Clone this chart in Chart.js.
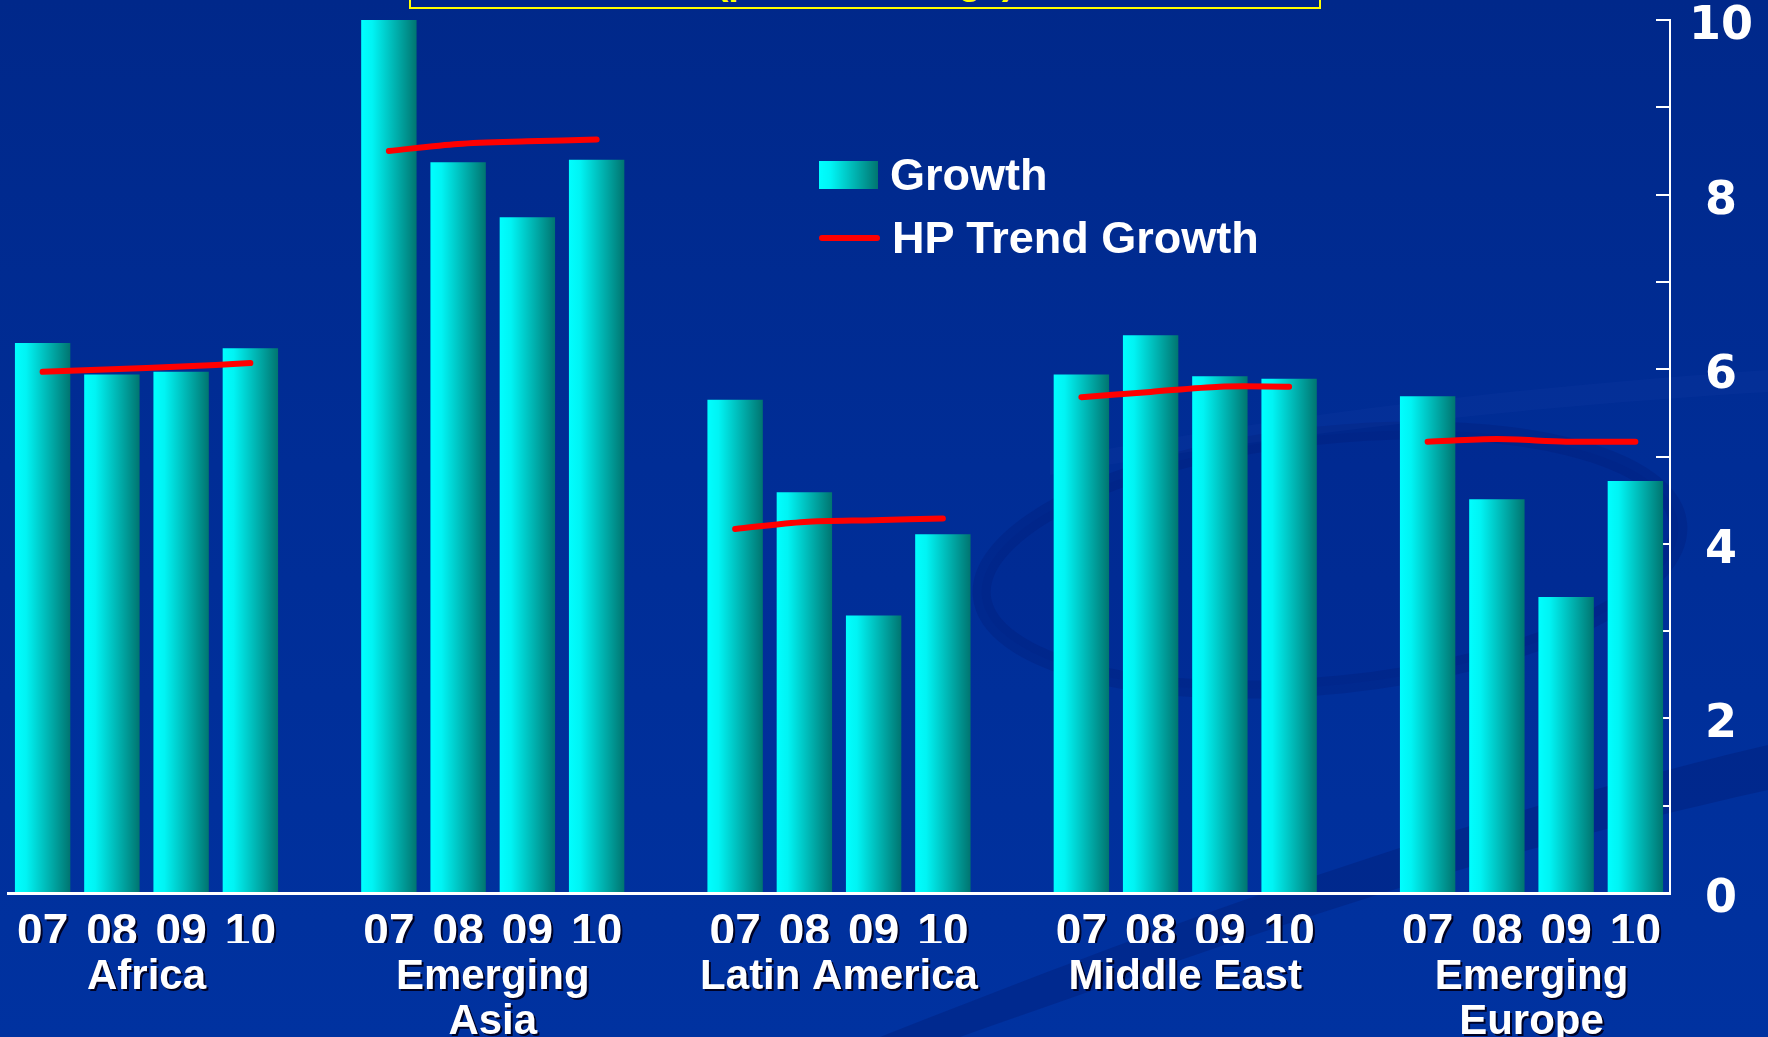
<!DOCTYPE html>
<html>
<head>
<meta charset="utf-8">
<title>Growth vs HP Trend Growth</title>
<script src="https://cdn.jsdelivr.net/npm/chart.js@4.4.1/dist/chart.umd.min.js"></script>
<style>
  html, body { margin: 0; padding: 0; overflow: hidden; }
  body {
    width: 1768px; height: 1037px; position: relative;
    background: linear-gradient(180deg, #00288a 0%, #002d96 45%, #0032a0 100%);
    font-family: "Liberation Sans", Arial, sans-serif;
  }
  #swirl { position: absolute; left: 0; top: 0; }
  #wrap { position: absolute; left: 0; top: 0; width: 1768px; height: 1037px; }
  .titlebox {
    position: absolute; left: 409px; top: -50px; width: 912px; height: 59px;
    box-sizing: border-box; border: 2px solid #ffff00; overflow: hidden;
  }
  .titlebox span {
    position: absolute; left: 0; right: 0; top: 11px; text-align: center;
    color: #ffff00; font-weight: bold; font-size: 37px; line-height: 37px;
  }
  .legend-row {
    position: absolute; left: 819px; height: 50px; line-height: 50px;
    color: #fff; font-weight: bold; font-size: 45px; white-space: nowrap;
  }
  .legend-row i { display: inline-block; vertical-align: middle; margin-right: 12px; position: relative; top: -3px; }
  .swatch { width: 59px; height: 28px; background: linear-gradient(90deg, #00ffff 0%, #00f4f4 20%, #007570 100%); }
  .dash { width: 61px; height: 6px; border-radius: 3px; background: #ff0000; }
</style>
</head>
<body>
<svg id="swirl" width="1768" height="1037">
  <ellipse cx="1330" cy="560" rx="350" ry="125" transform="rotate(-6 1330 560)"
           fill="rgba(0,30,125,0.15)" stroke="rgba(0,24,110,0.25)" stroke-width="18"/>
  <path d="M 880 1037 C 1150 930, 1450 820, 1768 745 L 1768 790 C 1450 860, 1180 960, 960 1037 Z"
        fill="rgba(0,22,105,0.3)"/>
  <path d="M 1050 460 C 1300 410, 1550 385, 1768 370 L 1768 392 C 1550 405, 1300 430, 1050 475 Z"
        fill="rgba(40,80,190,0.1)"/>
</svg>
<div class="titlebox"><span>(percent change)</span></div>
<div id="wrap"><canvas id="growthChart"></canvas></div>
<div class="legend-row" style="top:150px"><i class="swatch"></i>Growth</div>
<div class="legend-row" style="top:213px"><i class="dash"></i>HP Trend Growth</div>

<script>
// Regions, years and values (per region: 07, 08, 09, 10)
const years = ["07", "08", "09", "10"];
const regions = ["Africa", ["Emerging", "Asia"], "Latin America", "Middle East", ["Emerging", "Europe"]];

const growth = [
  6.30, 5.94, 5.97, 6.24,   // Africa
  10.0, 8.37, 7.74, 8.40,   // Emerging Asia
  5.65, 4.59, 3.18, 4.11,   // Latin America
  5.94, 6.39, 5.92, 5.89,   // Middle East
  5.69, 4.51, 3.39, 4.72,   // Emerging Europe
];
const trend = [
  5.97, 6.00, 6.03, 6.07,
  8.50, 8.58, 8.61, 8.63,
  4.17, 4.25, 4.27, 4.29,
  5.68, 5.74, 5.80, 5.80,
  5.17, 5.20, 5.17, 5.17,
];
const yTicks = [0, 2, 4, 6, 8, 10];

// one empty slot between region groups
const slots = [];
const growthSlots = [];
const trendSlots = [];
regions.forEach((r, g) => {
  if (g > 0) { slots.push(""); growthSlots.push(null); trendSlots.push(null); }
  years.forEach((yr, i) => {
    slots.push(yr);
    growthSlots.push(growth[g * 4 + i]);
    trendSlots.push(trend[g * 4 + i]);
  });
});
const regionCenters = regions.map((r, g) => g * 5 + 1.5);

const barGradient = (ctx) => {
  const chart = ctx.chart;
  const x = chart.scales.x;
  if (!x || ctx.dataIndex == null) return "#00ffff";
  const c = x.getPixelForValue(ctx.dataIndex);
  const w = (x.getPixelForValue(1) - x.getPixelForValue(0)) * 0.8;
  if (!isFinite(c) || !isFinite(w) || w <= 0) return "#00ffff";
  const g = chart.ctx.createLinearGradient(c - w / 2, 0, c + w / 2, 0);
  g.addColorStop(0, "#00ffff");
  g.addColorStop(0.2, "#00f4f4");
  g.addColorStop(1, "#007570");
  return g;
};

// dark drop shadow under the bottom labels
const labelShadow = {
  id: "labelShadow",
  beforeDraw(chart) {
    ["x", "region"].forEach((id) => {
      const s = chart.scales[id];
      if (!s || s._shadowed) return;
      const draw = s.drawLabels.bind(s);
      s.drawLabels = (area) => {
        const c = chart.ctx;
        c.save();
        c.shadowColor = "rgba(0,0,30,0.95)";
        c.shadowOffsetX = 2;
        c.shadowOffsetY = 2;
        c.shadowBlur = 0;
        draw(area);
        c.restore();
      };
      s._shadowed = true;
    });
  },
};

new Chart(document.getElementById("growthChart"), {
  data: {
    labels: slots,
    datasets: [
      {
        type: "line",
        label: "HP Trend Growth",
        data: trendSlots,
        borderColor: "#ff0000",
        borderWidth: 6,
        borderCapStyle: "round",
        tension: 0.3,
        pointRadius: 0,
        spanGaps: false,
        order: 1,
      },
      {
        type: "bar",
        label: "Growth",
        data: growthSlots,
        backgroundColor: barGradient,
        barPercentage: 0.8,
        categoryPercentage: 1.0,
        order: 2,
      },
    ],
  },
  options: {
    responsive: true,
    maintainAspectRatio: false,
    animation: false,
    layout: { padding: { left: 8, top: 20, right: 0, bottom: 0 } },
    plugins: { legend: { display: false }, tooltip: { enabled: false } },
    scales: {
      x: {
        type: "category",
        position: "bottom",
        offset: true,
        weight: 0,
        grid: { display: false },
        border: { display: true, color: "#ffffff", width: 3 },
        ticks: {
          color: "#ffffff",
          font: { family: "Liberation Sans", weight: "bold", size: 46, lineHeight: 1 },
          padding: 9,
          maxRotation: 0,
          autoSkip: false,
        },
        afterFit: (axis) => {
          axis.height = 50;
          axis.paddingLeft = 0;
          axis.paddingRight = 0;
        },
      },
      region: {
        type: "linear",
        position: "bottom",
        weight: 1,
        min: -0.5,
        max: 23.5,
        grid: { display: false },
        border: { display: false },
        afterBuildTicks: (axis) => {
          axis.ticks = regionCenters.map((v) => ({ value: v }));
        },
        ticks: {
          color: "#ffffff",
          font: { family: "Liberation Sans", weight: "bold", size: 42, lineHeight: 1.07 },
          padding: 4,
          maxRotation: 0,
          autoSkip: false,
          callback: (v) => regions[regionCenters.indexOf(v)],
        },
        afterFit: (axis) => {
          axis.height = 94;
          axis.paddingLeft = 0;
          axis.paddingRight = 0;
        },
      },
      y: {
        position: "right",
        min: 0,
        max: 10,
        grid: { display: true, drawOnChartArea: false, drawTicks: true, tickLength: -14, color: "#ffffff", lineWidth: 2 },
        border: { display: true, color: "#ffffff", width: 2 },
        ticks: {
          stepSize: 1,
          color: "#ffffff",
          crossAlign: "center",
          padding: 33,
          labelOffset: 7,
          font: { family: "DejaVu Sans", weight: "bold", size: 46 },
          callback: (v) => (yTicks.includes(v) ? String(v) : ""),
        },
        afterFit: (axis) => {
          axis.width = 98;
          axis.paddingTop = 0;
          axis.paddingBottom = 0;
        },
      },
    },
  },
  plugins: [labelShadow],
});
</script>
</body>
</html>
